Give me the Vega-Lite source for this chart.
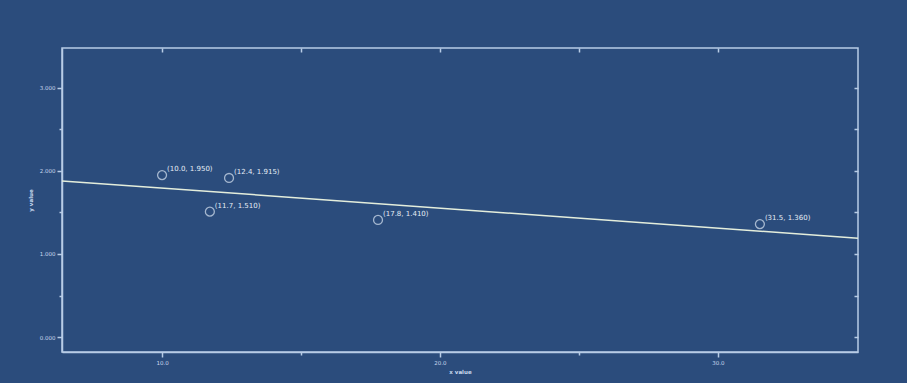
{
  "$schema": "https://vega.github.io/schema/vega-lite/v6.json",
  "width": 796,
  "height": 304,
  "autosize": {"type": "none"},
  "padding": {"left": 62, "top": 48, "right": 49, "bottom": 31},
  "background": "#2b4c7c",
  "config": {
    "view": {"stroke": "#b8cce6", "strokeWidth": 1.5},
    "axis": {"domainColor": "#b8cce6", "tickColor": "#b8cce6", "labelColor": "#c8d8ee", "titleColor": "#c8d8ee", "labelFontSize": 5.5, "titleFontSize": 5.5, "labelFont": "DejaVu Sans", "titleFont": "DejaVu Sans", "grid": false, "domainWidth": 1.5, "tickWidth": 1.5}
  },
  "datasets": {
    "pts": [
      {"x": 10.0, "y": 1.95, "label": "(10.0, 1.950)"},
      {"x": 12.41, "y": 1.915, "label": "(12.4, 1.915)"},
      {"x": 11.72, "y": 1.51, "label": "(11.7, 1.510)"},
      {"x": 17.77, "y": 1.41, "label": "(17.8, 1.410)"},
      {"x": 31.51, "y": 1.36, "label": "(31.5, 1.360)"}
    ],
    "fit": [
      {"x": 6.40, "y": 1.88},
      {"x": 35.04, "y": 1.19}
    ]
  },
  "resolve": {"axis": {"x": "independent", "y": "independent"}},
  "layer": [
    {
      "data": {"name": "fit"},
      "mark": {"type": "line", "color": "#e4eedc", "strokeWidth": 1.5},
      "encoding": {
        "x": {"field": "x", "type": "quantitative", "scale": {"domain": [6.40, 35.04], "nice": false, "zero": false},
              "axis": {"orient": "bottom", "values": [10, 20, 30], "tickSize": 5, "title": "x value", "labelPadding": 3, "titlePadding": 4, "format": ".1f"}},
        "y": {"field": "y", "type": "quantitative", "scale": {"domain": [-0.18, 3.48], "nice": false, "zero": false},
              "axis": {"orient": "left", "values": [0, 1, 2, 3], "tickSize": 5, "title": "y value", "labelPadding": 2, "titlePadding": 6, "format": ".3f"}}
      }
    },
    {
      "data": {"name": "pts"},
      "mark": {"type": "point", "shape": "circle", "filled": false, "stroke": "#d8e4f2", "strokeWidth": 1.3, "size": 80},
      "encoding": {
        "x": {"field": "x", "type": "quantitative", "axis": {"orient": "top", "values": [10, 15, 20, 25, 30], "tickSize": -4, "labels": false, "title": null, "domain": false}},
        "y": {"field": "y", "type": "quantitative", "axis": {"orient": "right", "values": [0, 0.5, 1, 1.5, 2, 2.5, 3], "tickSize": -4, "labels": false, "title": null, "domain": false}}
      }
    },
    {
      "data": {"name": "pts"},
      "mark": {"type": "text", "align": "left", "baseline": "bottom", "dx": 5, "dy": -3, "fontSize": 7, "font": "DejaVu Sans", "color": "#e4ecf6"},
      "encoding": {
        "x": {"field": "x", "type": "quantitative", "axis": {"orient": "bottom", "values": [15, 25], "tickSize": 3, "labels": false, "title": null, "domain": false}},
        "y": {"field": "y", "type": "quantitative", "axis": {"orient": "left", "values": [0.5, 1.5, 2.5], "tickSize": 3, "labels": false, "title": null, "domain": false}},
        "text": {"field": "label"}
      }
    }
  ]
}
